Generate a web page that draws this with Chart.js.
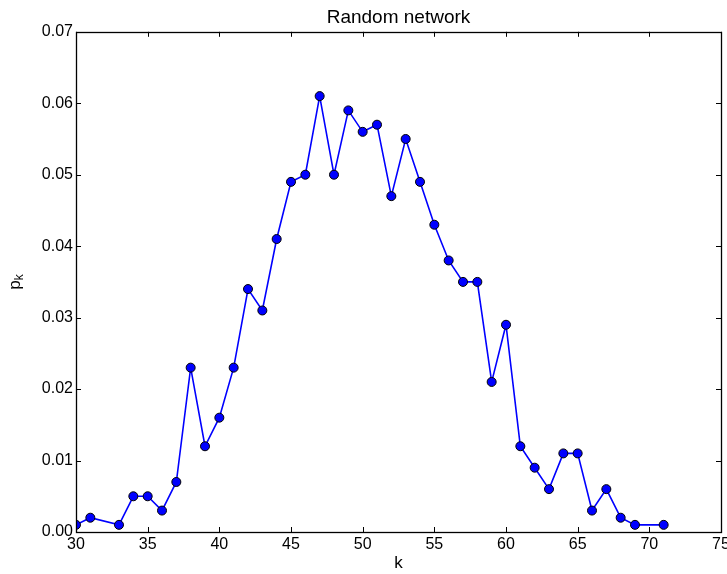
<!DOCTYPE html>
<html>
<head>
<meta charset="utf-8">
<script src="https://cdn.jsdelivr.net/npm/chart.js@4/dist/chart.umd.min.js"></script>
<style>
  html, body { margin: 0; padding: 0; background: #fff; }
  #wrap { width: 727px; height: 574px; }
</style>
</head>
<body>
<div id="wrap"><canvas id="degreeChart" width="727" height="574"></canvas></div>
<script>
const chartTitle = 'Random network';
const xLabel = 'k';
const yLabelMain = 'p';
const yLabelSub = 'k';

const kValues = [30, 31, 33, 34, 35, 36, 37, 38, 39, 40,
    41, 42, 43, 44, 45, 46, 47, 48, 49, 50,
    51, 52, 53, 54, 55, 56, 57, 58, 59, 60,
    61, 62, 63, 64, 65, 66, 67, 68, 69, 71];
const pkValues = [0.001, 0.002, 0.001, 0.005, 0.005, 0.003, 0.007, 0.023, 0.012, 0.016,
    0.023, 0.034, 0.031, 0.041, 0.049, 0.050, 0.061, 0.050, 0.059, 0.056,
    0.057, 0.047, 0.055, 0.049, 0.043, 0.038, 0.035, 0.035, 0.021, 0.029,
    0.012, 0.009, 0.006, 0.011, 0.011, 0.003, 0.006, 0.002, 0.001, 0.001];

const xRange = [30, 75];
const yRange = [0, 0.07];

const fontFamily = '"Liberation Sans", Arial, Helvetica, sans-serif';

// matplotlib-like frame: box plus inward ticks on all four sides, and p_k label
const framePlugin = {
    id: 'frame',
    afterDatasetsDraw(chart) {
        const ctx = chart.ctx;
        const area = chart.chartArea;
        const xScale = chart.scales.x;
        const yScale = chart.scales.y;
        const tickLen = 5;

        ctx.save();
        ctx.strokeStyle = '#000';
        ctx.lineWidth = 1;
        ctx.beginPath();
        xScale.ticks.forEach(t => {
            const px = Math.round(xScale.getPixelForValue(t.value)) + 0.5;
            ctx.moveTo(px, area.bottom);
            ctx.lineTo(px, area.bottom - tickLen);
            ctx.moveTo(px, area.top);
            ctx.lineTo(px, area.top + tickLen);
        });
        yScale.ticks.forEach(t => {
            const py = Math.round(yScale.getPixelForValue(t.value)) + 0.5;
            ctx.moveTo(area.left, py);
            ctx.lineTo(area.left + tickLen, py);
            ctx.moveTo(area.right, py);
            ctx.lineTo(area.right - tickLen, py);
        });
        ctx.stroke();

        ctx.lineWidth = 1.3;
        ctx.strokeRect(Math.round(area.left) + 0.5, Math.round(area.top) + 0.5,
            Math.round(area.right - area.left), Math.round(area.bottom - area.top));

        // y axis label with subscript
        const midY = (area.top + area.bottom) / 2;
        ctx.translate(20, midY);
        ctx.rotate(-Math.PI / 2);
        ctx.fillStyle = '#000';
        ctx.textBaseline = 'alphabetic';
        ctx.font = '17px ' + fontFamily;
        const mainW = ctx.measureText(yLabelMain).width;
        ctx.font = '12px ' + fontFamily;
        const subW = ctx.measureText(yLabelSub).width;
        const startX = -(mainW + subW) / 2;
        ctx.font = '17px ' + fontFamily;
        ctx.fillText(yLabelMain, startX, 0);
        ctx.font = '12px ' + fontFamily;
        ctx.fillText(yLabelSub, startX + mainW, 3);
        ctx.restore();
    }
};

const ctx = document.getElementById('degreeChart').getContext('2d');
const points = kValues.map((k, i) => ({ x: k, y: pkValues[i] }));

new Chart(ctx, {
    type: 'scatter',
    data: {
        datasets: [{
            data: points,
            showLine: true,
            borderColor: '#0000ff',
            borderWidth: 1.6,
            pointRadius: 4.5,
            pointHoverRadius: 4.5,
            pointBackgroundColor: '#0000ff',
            pointBorderColor: '#000',
            pointBorderWidth: 1,
            clip: 0
        }]
    },
    options: {
        responsive: false,
        animation: false,
        layout: { padding: { left: 0, right: 6, top: 0, bottom: 0 } },
        plugins: {
            legend: { display: false },
            tooltip: { enabled: false },
            title: {
                display: true,
                fullSize: false,
                text: chartTitle,
                color: '#000',
                font: { family: fontFamily, size: 19, weight: 'normal' },
                padding: { top: 6, bottom: 3 }
            }
        },
        scales: {
            x: {
                type: 'linear',
                min: xRange[0],
                max: xRange[1],
                grid: { display: false, drawTicks: false },
                border: { display: false },
                ticks: {
                    stepSize: 5,
                    color: '#000',
                    padding: 3,
                    maxRotation: 0,
                    font: { family: fontFamily, size: 16 }
                },
                title: {
                    display: true,
                    text: xLabel,
                    color: '#000',
                    font: { family: fontFamily, size: 17 },
                    padding: { top: 0, bottom: 0 }
                },
                afterFit(scale) {
                    scale.height = 42;
                    scale.paddingLeft = 0;
                    scale.paddingRight = 0;
                }
            },
            y: {
                min: yRange[0],
                max: yRange[1],
                grid: { display: false, drawTicks: false },
                border: { display: false },
                ticks: {
                    stepSize: 0.01,
                    color: '#000',
                    padding: 3,
                    font: { family: fontFamily, size: 16 },
                    callback: v => v.toFixed(2)
                },
                afterFit(scale) {
                    scale.width = 76;
                    scale.paddingTop = 0;
                    scale.paddingBottom = 0;
                }
            }
        }
    },
    plugins: [framePlugin]
});
</script>
</body>
</html>
